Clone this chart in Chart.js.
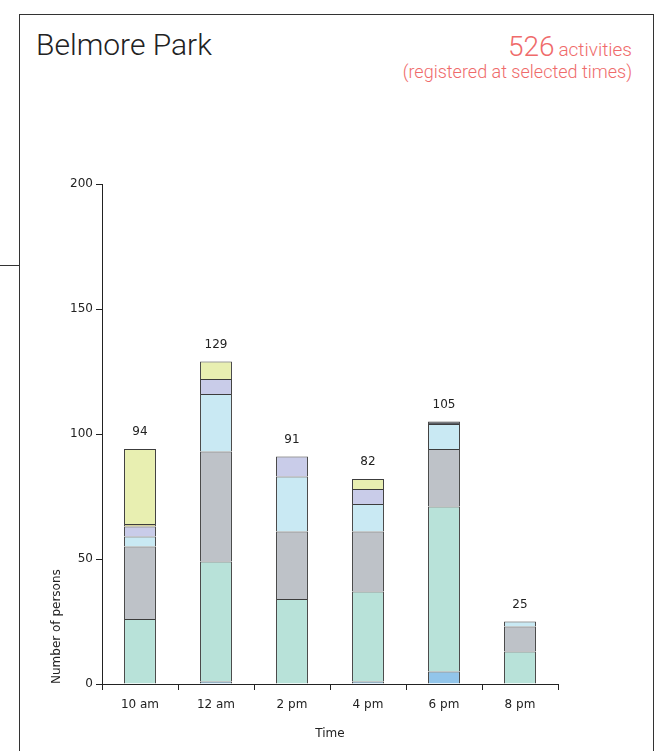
<!DOCTYPE html>
<html>
<head>
<meta charset="utf-8">
<script src="https://cdn.jsdelivr.net/npm/chart.js@4.4.1/dist/chart.umd.min.js"></script>
<style>
  html, body { margin: 0; padding: 0; background: #fff; }
  body { width: 659px; height: 751px; position: relative; overflow: hidden; }
  .frame {
    position: absolute; left: 19px; top: 14px; width: 635px; height: 800px;
    border: 1px solid #333; box-sizing: border-box;
  }
  .side-line { position: absolute; left: 0; top: 265px; width: 19px; height: 1px; background: #333; }
  .title {
    position: absolute; left: 36px; top: 27px; font-family: "Roboto", sans-serif; font-weight: 300;
    font-size: 30px; color: #222;
  }
  .count {
    position: absolute; right: 27px; top: 33px; text-align: right; color: #ef6b6b;
    font-family: "Roboto", sans-serif; font-weight: 300; line-height: 1;
  }
  .count .big { font-size: 28px; }
  .count .small { font-size: 19px; }
  .count .line2 { font-size: 18px; margin-top: 2px; }
  #wrap { position: absolute; left: 20px; top: 170px; width: 560px; height: 575px; }
</style>
</head>
<body>
<div class="frame"></div>
<div class="side-line"></div>
<div class="title">Belmore Park</div>
<div class="count"><span class="big">526</span> <span class="small">activities</span><div class="line2">(registered at selected times)</div></div>
<div id="wrap"><canvas id="chart"></canvas></div>
<script>
  const timeLabels = ['10 am', '12 am', '2 pm', '4 pm', '6 pm', '8 pm'];
  const blueValues = [0, 1, 0, 1, 5, 0];
  const mintValues = [26, 48, 34, 36, 66, 13];
  const grayValues = [29, 44, 27, 24, 23, 10];
  const lightBlueValues = [4, 23, 22, 11, 10, 2];
  const lavenderValues = [4, 6, 8, 6, 0, 0];
  const tanValues = [1, 0, 0, 0, 0, 0];
  const darkValues = [0, 0, 0, 0, 1, 0];
  const yellowValues = [30, 7, 0, 4, 0, 0];
  const yTicks = [0, 50, 100, 150, 200];

  const series = [
    { data: blueValues, color: '#92c5ea' },
    { data: mintValues, color: '#b8e2d9' },
    { data: grayValues, color: '#bec2c8' },
    { data: lightBlueValues, color: '#c9e9f3' },
    { data: lavenderValues, color: '#c9cce9' },
    { data: tanValues, color: '#d3cf9c' },
    { data: darkValues, color: '#5a5e64' },
    { data: yellowValues, color: '#e8efb1' },
  ];

  const totals = timeLabels.map((_, i) => series.reduce((sum, s) => sum + s.data[i], 0));

  const totalLabels = {
    id: 'totalLabels',
    afterDatasetsDraw(chart) {
      const { ctx, scales } = chart;
      ctx.save();
      ctx.font = '12px "DejaVu Sans", sans-serif';
      ctx.fillStyle = '#222';
      ctx.textAlign = 'center';
      ctx.textBaseline = 'middle';
      totals.forEach((total, i) => {
        const x = scales.x.getPixelForValue(i);
        const y = scales.y.getPixelForValue(total) - 17;
        ctx.fillText(String(total), x, y);
      });
      ctx.restore();
    },
  };

  const tickFont = { family: '"DejaVu Sans", sans-serif', size: 12 };

  new Chart(document.getElementById('chart'), {
    type: 'bar',
    data: {
      labels: timeLabels,
      datasets: series.map((s) => ({
        data: s.data.map((v) => (v === 0 ? null : v)),
        backgroundColor: s.color,
        borderColor: '#3c3c3c',
        borderWidth: 1,
        borderSkipped: 'bottom',
        inflateAmount: 0,
        categoryPercentage: 1,
        barPercentage: 0.42,
      })),
    },
    options: {
      responsive: true,
      maintainAspectRatio: false,
      animation: false,
      layout: { padding: { top: 14, right: 22, left: 0, bottom: 0 } },
      plugins: { legend: { display: false }, tooltip: { enabled: false } },
      scales: {
        x: {
          stacked: true,
          border: { color: '#222', width: 1 },
          grid: { drawOnChartArea: false, tickLength: 6, color: '#222', offset: true },
          ticks: { color: '#222', font: tickFont, padding: 8, maxRotation: 0 },
          title: { display: true, text: 'Time', color: '#222', font: { family: '"DejaVu Sans", sans-serif', size: 12 }, padding: { top: 6 } },
          afterFit: (scale) => { scale.height = 61; },
        },
        y: {
          stacked: true,
          min: 0,
          max: 200,
          afterBuildTicks: (scale) => { scale.ticks = yTicks.map((v) => ({ value: v })); },
          border: { color: '#222', width: 1 },
          grid: { drawOnChartArea: false, tickLength: 6, color: '#222' },
          ticks: { color: '#222', font: tickFont, padding: 3 },
          title: {
            display: true, text: 'Number of persons', align: 'start', color: '#222',
            font: { family: '"DejaVu Sans", sans-serif', size: 12 }, padding: { top: 30 },
          },
          afterFit: (scale) => { scale.width = 82; },
        },
      },
    },
    plugins: [totalLabels],
  });
</script>
</body>
</html>
